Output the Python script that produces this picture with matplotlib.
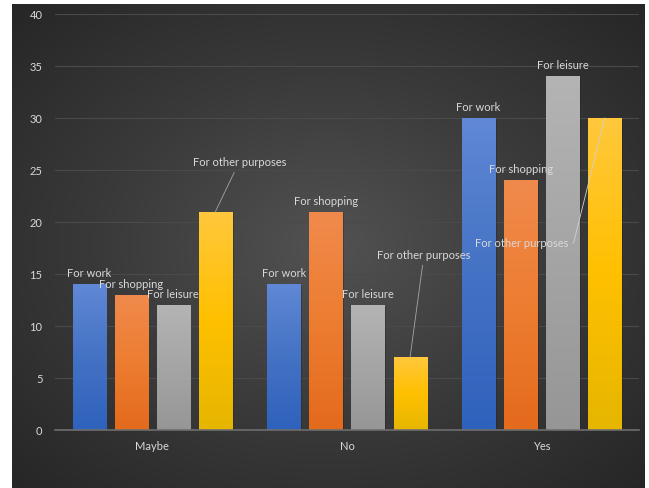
import numpy as np
import matplotlib
matplotlib.use("Agg")
import matplotlib.pyplot as plt
from matplotlib.colors import LinearSegmentedColormap

plt.rcParams['font.family'] = ['Lato', 'DejaVu Sans']

categories = ["Maybe", "No", "Yes"]
series = ["For work", "For shopping", "For leisure", "For other purposes"]
work = [14, 14, 30]
shopping = [13, 21, 24]
leisure = [12, 12, 34]
other = [21, 7, 30]
values = [work, shopping, leisure, other]

# top, middle, bottom shades for each series
shades = [
    ["#6088d6", "#4472c4", "#2f62bd"],
    ["#f08a4c", "#ed7d31", "#e46a1c"],
    ["#b4b4b4", "#a5a5a5", "#969696"],
    ["#ffc83c", "#ffc000", "#e6b600"],
]

# label offsets in pixels from bar top (dx, dy); None = plain label above bar
label_offsets = {
    (3, 0): (24, 50),
    (3, 1): (14, 103),
    (3, 2): (-83, -125),
}

W, H = 649, 489
fig = plt.figure(figsize=(W / 100, H / 100), dpi=100, facecolor="white")

# dark radial background panel
bg = fig.add_axes([12 / W, 0, (645 - 12) / W, (489 - 5) / H])
bg.set_axis_off()
yy, xx = np.mgrid[0:1:300j, 0:1:400j]
r = np.sqrt(((xx - 0.5) / 0.75) ** 2 + ((yy - 0.5) / 0.75) ** 2)
r = np.clip(r / 0.95, 0, 1)
bgmap = LinearSegmentedColormap.from_list("bg", ["#525252", "#3a3a3a", "#262626"])
bg.imshow(r, cmap=bgmap, aspect="auto", extent=[0, 1, 0, 1], vmin=0, vmax=1)
bg.set_xlim(0, 1)
bg.set_ylim(0, 1)

ax = fig.add_axes([55 / W, 1 - 431 / H, (639 - 55) / W, (431 - 15) / H])
ax.patch.set_alpha(0)

x = np.arange(len(categories))
width = 0.17
step = 0.216
text_col = "#d9d9d9"

for i, vals in enumerate(values):
    pos = x + (i - 1.5) * step
    bars = ax.bar(pos, vals, width, color="none", edgecolor="none", zorder=3)
    cmap = LinearSegmentedColormap.from_list("s%d" % i, shades[i][::-1])
    for j, b in enumerate(bars):
        bx, by = b.get_x(), b.get_y()
        bw, bh = b.get_width(), b.get_height()
        # subtle shadow
        ax.bar(bx + bw / 2 + 0.008, bh, bw, bottom=-0.15, color="#1e1e1e", alpha=0.35, zorder=2)
        grad = np.linspace(0, 1, 256).reshape(-1, 1)
        im = ax.imshow(grad, cmap=cmap, aspect="auto", origin="lower",
                       extent=[bx, bx + bw, by, by + bh], zorder=3)
        im.set_clip_path(b)

        off = label_offsets.get((i, j))
        if off is None:
            ax.annotate(series[i], (bx + bw / 2, bh), xytext=(0, 8.3),
                        textcoords="offset points", ha="center", va="center",
                        fontsize=8, color=text_col, zorder=5)
        elif off[1] > 0:
            ax.annotate(series[i], (bx + bw / 2, bh),
                        xytext=(off[0] * 0.72, off[1] * 0.72),
                        textcoords="offset points", ha="center", va="center",
                        fontsize=8, color=text_col, zorder=5,
                        arrowprops=dict(arrowstyle="-", color="#a6a6a6", lw=0.6,
                                        shrinkA=2, shrinkB=0))
        else:
            ax.annotate(series[i], (bx + bw / 2, bh),
                        xytext=(off[0] * 0.72, off[1] * 0.72),
                        textcoords="offset points", ha="center", va="center",
                        fontsize=8, color=text_col, zorder=5,
                        arrowprops=dict(arrowstyle="-", color="#d0d0d0", lw=0.6,
                                        shrinkA=1, shrinkB=0, relpos=(1, 0.5),
                                        connectionstyle="angle,angleA=0,angleB=76,rad=0"))

ax.set_xlim(-0.5, 2.5)
ax.set_ylim(0, 40)
ax.set_yticks(range(0, 41, 5))
ax.set_xticks(x)
ax.set_xticklabels(categories)
ax.tick_params(axis="both", length=0, colors=text_col, labelsize=8)
ax.tick_params(axis="y", pad=9)
ax.tick_params(axis="x", pad=7)
ax.grid(axis="y", color="#4a4a4a", lw=0.8, zorder=0)
ax.set_axisbelow(True)
for s in ["top", "right", "left"]:
    ax.spines[s].set_visible(False)
ax.spines["bottom"].set_color("#6e6e6e")
ax.spines["bottom"].set_linewidth(1.2)
ax.spines["bottom"].set_zorder(4)

fig.savefig("out.png", dpi=100, facecolor="white")
